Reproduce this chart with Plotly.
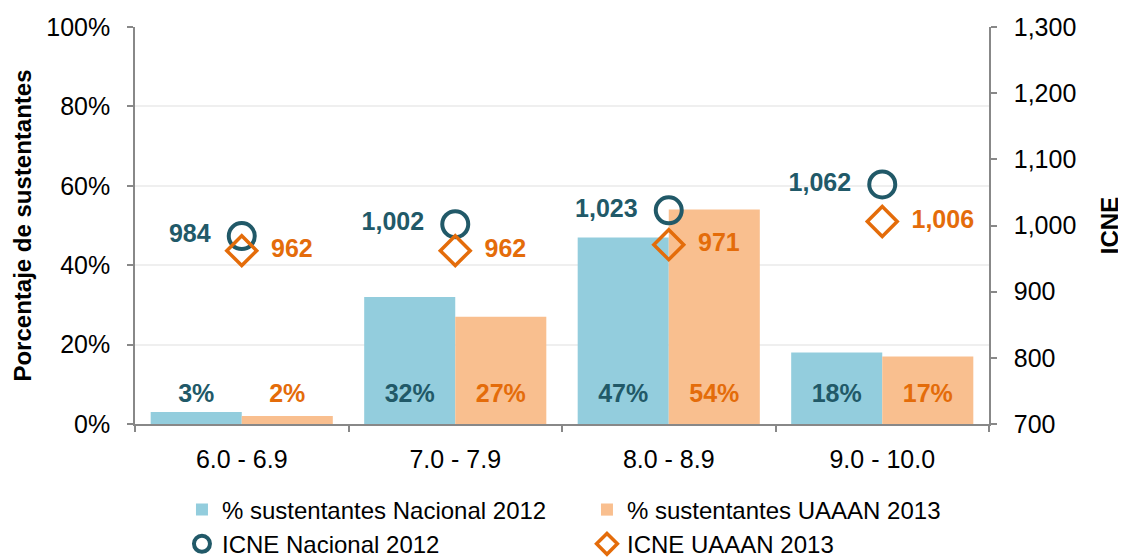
import plotly.graph_objects as go

categories = ["6.0 - 6.9", "7.0 - 7.9", "8.0 - 8.9", "9.0 - 10.0"]
pct_nacional_2012 = [3, 32, 47, 18]
pct_uaaan_2013 = [2, 27, 54, 17]
icne_nacional_2012 = [984, 1002, 1023, 1062]
icne_uaaan_2013 = [962, 962, 971, 1006]
pct_ticks = [0, 20, 40, 60, 80, 100]
icne_ticks = [700, 800, 900, 1000, 1100, 1200, 1300]

BLUE = "#93CDDD"
PEACH = "#F9BF8F"
TEAL = "#215968"
ORANGE = "#E46C0A"
FONT = "Liberation Sans, Arial, sans-serif"
AXIS = "#888888"

idx = list(range(len(categories)))
BARGAP = 0.147
half = (1 - BARGAP) / 4  # center offset of each bar in group
LABEL_Y = 7

fig = go.Figure()
fig.add_trace(go.Bar(x=idx, y=pct_nacional_2012, name="% sustentantes Nacional 2012",
                     marker=dict(color=BLUE, line=dict(width=0))))
fig.add_trace(go.Bar(x=idx, y=pct_uaaan_2013, name="% sustentantes UAAAN 2013",
                     marker=dict(color=PEACH, line=dict(width=0))))

fig.add_trace(go.Scatter(x=[i - half for i in idx], y=[LABEL_Y] * len(idx), mode="text",
                         text=[f"{v}%" for v in pct_nacional_2012], textposition="middle center",
                         textfont=dict(family=FONT, size=25, color=TEAL, weight="bold"),
                         showlegend=False, hoverinfo="skip"))
fig.add_trace(go.Scatter(x=[i + half for i in idx], y=[LABEL_Y] * len(idx), mode="text",
                         text=[f"{v}%" for v in pct_uaaan_2013], textposition="middle center",
                         textfont=dict(family=FONT, size=25, color=ORANGE, weight="bold"),
                         showlegend=False, hoverinfo="skip"))

fig.add_trace(go.Scatter(x=idx, y=icne_nacional_2012, yaxis="y2", name="ICNE Nacional 2012",
                         mode="markers+text", text=[f"{v:,}  " for v in icne_nacional_2012],
                         textposition="middle left",
                         textfont=dict(family=FONT, size=25, color=TEAL, weight="bold"),
                         marker=dict(symbol="circle-open", size=26, color=TEAL, line=dict(width=4, color=TEAL))))
fig.add_trace(go.Scatter(x=idx, y=icne_uaaan_2013, yaxis="y2", name="ICNE UAAAN 2013",
                         mode="markers+text", text=[f"  {v:,}" for v in icne_uaaan_2013],
                         textposition="middle right",
                         textfont=dict(family=FONT, size=25, color=ORANGE, weight="bold"),
                         marker=dict(symbol="diamond-open", size=23, color=ORANGE, line=dict(width=3.5, color=ORANGE))))

fig.update_layout(
    width=1118, height=552,
    margin=dict(l=127, r=137, t=19, b=136, autoexpand=False),
    paper_bgcolor="white", plot_bgcolor="white",
    font=dict(family=FONT, size=25, color="#000000"),
    barmode="group", bargap=BARGAP, bargroupgap=0,
    xaxis=dict(range=[-0.5, 3.5], tickvals=idx, ticktext=categories, ticks="",
               showline=True, linecolor=AXIS, linewidth=1.5, showgrid=False, zeroline=False,
               ticklabelstandoff=12, automargin=False,
               minor=dict(tickvals=[-0.5, 0.5, 1.5, 2.5, 3.5], ticks="outside", ticklen=6,
                          tickcolor=AXIS, tickwidth=1.5, showgrid=False)),
    yaxis=dict(range=[0, 100], tickvals=pct_ticks, ticktext=[f"{v}%" for v in pct_ticks],
               ticks="outside", ticklen=6,
               tickcolor=AXIS, tickwidth=1.5, showline=True, linecolor=AXIS, linewidth=1.5,
               showgrid=True, gridcolor="#EFEFEF", gridwidth=1.5, zeroline=False,
               ticklabelstandoff=12, automargin=False,
               title=dict(text="<b>Porcentaje de sustentantes</b>", standoff=8,
                          font=dict(family=FONT, size=24, color="#000000"))),
    yaxis2=dict(range=[700, 1300], tickvals=icne_ticks, tickformat=",d", overlaying="y", side="right",
                ticks="outside", ticklen=6, tickcolor=AXIS, tickwidth=1.5, showline=True,
                linecolor=AXIS, linewidth=1.5, showgrid=False, zeroline=False,
                ticklabelstandoff=12, automargin=False,
                title=dict(text="<b>ICNE</b>", standoff=26,
                           font=dict(family=FONT, size=24, color="#000000"))),
    legend=dict(orientation="h", x=0.055, xanchor="left", y=-0.16, yanchor="top",
                entrywidth=360, entrywidthmode="pixels", traceorder="normal", tracegroupgap=0,
                font=dict(family=FONT, size=24, color="#000000"), bgcolor="rgba(0,0,0,0)"),
    showlegend=True,
)

fig.write_html("out.html")
